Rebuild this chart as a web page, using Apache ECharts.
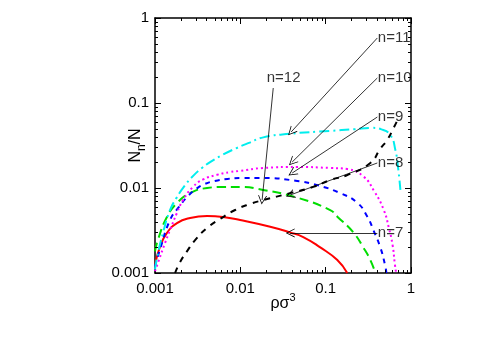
<!DOCTYPE html>
<html><head><meta charset="utf-8">
<script src="https://cdn.jsdelivr.net/npm/echarts@6/dist/echarts.min.js"></script>
<style>html,body{margin:0;padding:0;background:#fff}#c{width:485px;height:339px}</style>
</head><body><div id="c"></div>
<script>
// ---- axis ticks ----
const xMin = 0.001, xMax = 1;
const yMin = 0.001, yMax = 1;
const minorTicks = [0.002,0.003,0.004,0.005,0.006,0.007,0.008,0.009,
                    0.02,0.03,0.04,0.05,0.06,0.07,0.08,0.09,
                    0.2,0.3,0.4,0.5,0.6,0.7,0.8,0.9];

// ---- series data [rho*sigma^3, Nn/N] ----
const n7 = [[0.001,0.00124],[0.00114,0.00202],[0.00138,0.00296],[0.00181,0.00387],[0.00258,0.00444],
  [0.00408,0.00468],[0.00628,0.00456],[0.00995,0.0042],[0.0224,0.0035],[0.0384,0.003],[0.0546,0.00265],
  [0.0864,0.002],[0.137,0.00142],[0.179,0.001]];
const n8 = [[0.001,0.0018],[0.00108,0.00244],[0.00138,0.00456],[0.00181,0.00666],[0.00258,0.00873],
  [0.00408,0.01],[0.00628,0.0103],[0.00995,0.0103],[0.0185,0.0095],[0.0464,0.0077],[0.113,0.0055],
  [0.137,0.0046],[0.211,0.003],[0.276,0.002],[0.334,0.00142],[0.382,0.001]];
const n9 = [[0.001,0.0012],[0.00114,0.00187],[0.0015,0.0042],[0.00191,0.006],[0.0024,0.0079],
  [0.00302,0.0097],[0.0038,0.0111],[0.00501,0.0121],[0.00708,0.0128],[0.01,0.0131],[0.0185,0.0131],
  [0.0464,0.0121],[0.0797,0.0108],[0.148,0.0087],[0.235,0.0067],[0.308,0.0046],[0.362,0.0032],
  [0.437,0.002],[0.5,0.0012],[0.514,0.001]];
const n10 = [[0.001,0.00105],[0.00106,0.00124],[0.00131,0.00225],[0.0015,0.0032],[0.00181,0.0051],
  [0.00213,0.0072],[0.00279,0.0103],[0.00366,0.0126],[0.00534,0.0143],[0.00759,0.0154],[0.00995,0.0159],
  [0.0185,0.0172],[0.0464,0.0177],[0.113,0.0172],[0.179,0.0167],[0.276,0.0137],[0.37,0.0092],
  [0.48,0.0055],[0.55,0.0034],[0.61,0.0021],[0.645,0.0013],[0.67,0.001]];
const n11 = [[0.001,0.0011],[0.00106,0.00154],[0.00124,0.00296],[0.0015,0.0055],[0.00178,0.0076],
  [0.00224,0.0107],[0.00282,0.014],[0.00355,0.0172],[0.00447,0.0203],[0.00631,0.0248],[0.00891,0.0293],
  [0.0126,0.0339],[0.0186,0.0394],[0.0384,0.0435],[0.113,0.047],[0.211,0.049],[0.35,0.051],[0.45,0.049],
  [0.573,0.042],[0.656,0.028],[0.711,0.0163],[0.751,0.0095]];
const n12 = [[0.00172,0.001],[0.00197,0.00135],[0.00238,0.00181],[0.00295,0.00244],[0.00408,0.00339],
  [0.00579,0.00432],[0.00869,0.00551],[0.013,0.00649],[0.0185,0.0072],[0.0384,0.0087],[0.0715,0.0103],
  [0.113,0.0124],[0.179,0.0142],[0.334,0.0197],[0.437,0.029],[0.528,0.037],[0.62,0.05],[0.72,0.068]];

// ---- annotations ----
const annLabels = ['n=12','n=11','n=10','n=9','n=8','n=7'];
const annLabelPos = [[0.0201,0.197],[0.403,0.582],[0.403,0.197],[0.403,0.0684],[0.403,0.0197],[0.403,0.00296]];
const annArrowFrom = [[0.0243,0.15],[0.403,0.582],[0.403,0.197],[0.403,0.0684],[0.403,0.0197],[0.403,0.00296]];
const annArrowTo = [[0.018,0.00722],[0.0394,0.0456],[0.0405,0.0202],[0.0405,0.015],[0.0384,0.00827],[0.0384,0.00296]];

const FONT = 'Liberation Sans, Arial, Helvetica, sans-serif';
const chart = echarts.init(document.getElementById('c'), null, {renderer:'canvas'});

function axisBase(pos, showLabel){
  return {
    type:'log', logBase:10, position:pos,
    axisLine:{show:true, onZero:false, lineStyle:{color:'#000', width:1.5}},
    axisTick:{show:true, inside:true, length:6, lineStyle:{color:'#000', width:1}},
    axisLabel:{show:showLabel, color:'#000', fontSize:15, fontFamily:FONT,
      formatter:function(v){ return String(+Number(v).toPrecision(3)); }},
    splitLine:{show:false}, minorTick:{show:false}
  };
}
const xb = Object.assign(axisBase('bottom', true), {min:xMin, max:xMax,
  name:'{a|ρσ}{b|3}', nameLocation:'middle', nameGap:19, nameMoveOverlap:false,
  nameTextStyle:{color:'#000', fontFamily:FONT, rich:{a:{fontSize:16, fontFamily:FONT, lineHeight:20, verticalAlign:'bottom'}, b:{fontSize:11, fontFamily:FONT, lineHeight:20, verticalAlign:'top'}}}});
xb.axisLabel.margin = 8;
const xt = Object.assign(axisBase('top', false), {min:xMin, max:xMax});
const yl = Object.assign(axisBase('left', true), {min:yMin, max:yMax,
  name:'{a|N}{b|n}{a|/N}', nameLocation:'middle', nameGap:7, nameRotate:90, nameMoveOverlap:false,
  nameTextStyle:{color:'#000', fontFamily:FONT, rich:{a:{fontSize:16, fontFamily:FONT, lineHeight:20, verticalAlign:'top'}, b:{fontSize:12, fontFamily:FONT, lineHeight:20, verticalAlign:'bottom'}}}});
yl.axisLabel.margin = 6;
const yr = Object.assign(axisBase('right', false), {min:yMin, max:yMax});

function curve(data, color, dash, z){
  return {type:'line', data:data, xAxisIndex:0, yAxisIndex:0, showSymbol:false, symbol:'none',
    smooth:0.5, clip:true, z:z||2, silent:true,
    lineStyle:{color:color, width:2, type:dash, cap:'butt', join:'round'}};
}

const minorTickSeriesX = {
  type:'custom', xAxisIndex:0, yAxisIndex:0, silent:true, z:5,
  data: minorTicks.map(v=>[v, yMin]),
  renderItem:function(params, api){
    const cs = params.coordSys;
    const x = Math.round(api.coord([api.value(0), yMin])[0]) + 0.5;
    const b = cs.y + cs.height, t = cs.y;
    return {type:'group', children:[
      {type:'line', shape:{x1:x, y1:b, x2:x, y2:b-3}, style:{stroke:'#000', lineWidth:1}},
      {type:'line', shape:{x1:x, y1:t, x2:x, y2:t+3}, style:{stroke:'#000', lineWidth:1}}
    ]};
  }
};
const minorTickSeriesY = {
  type:'custom', xAxisIndex:0, yAxisIndex:0, silent:true, z:5,
  data: minorTicks.map(v=>[xMin, v]),
  renderItem:function(params, api){
    const cs = params.coordSys;
    const y = Math.round(api.coord([xMin, api.value(1)])[1]) + 0.5;
    const l = cs.x, r = cs.x + cs.width;
    return {type:'group', children:[
      {type:'line', shape:{x1:l, y1:y, x2:l+3, y2:y}, style:{stroke:'#000', lineWidth:1}},
      {type:'line', shape:{x1:r, y1:y, x2:r-3, y2:y}, style:{stroke:'#000', lineWidth:1}}
    ]};
  }
};

const arrowHead = 'path://M5,0 L10,10 L9,10 L5,2 L1,10 L0,10 Z';
const arrows = {
  type:'lines', coordinateSystem:'cartesian2d', xAxisIndex:0, yAxisIndex:0, silent:true, z:6,
  symbol:['none', arrowHead], symbolSize:[7,9],
  lineStyle:{color:'#000', width:0.8, opacity:1, curveness:0},
  itemStyle:{color:'#000'},
  data: annArrowFrom.map((p,i)=>({coords:[p, annArrowTo[i]]}))
};
const labels = {
  type:'scatter', xAxisIndex:0, yAxisIndex:0, silent:true, z:7, symbolSize:1,
  itemStyle:{color:'rgba(0,0,0,0)'},
  label:{show:true, position:'right', distance:0, formatter:'{b}', color:'#000', fontSize:15, fontFamily:FONT},
  data: annLabels.map((s,i)=>({name:s, value:annLabelPos[i]}))
};

chart.setOption({
  animation:false,
  backgroundColor:'#fff',
  grid:{left:155, right:74, top:18, bottom:66, containLabel:false},
  xAxis:[xb, xt],
  yAxis:[yl, yr],
  series:[
    curve(n7, '#ff0000', 'solid'),
    curve(n8, '#00dd00', [9,5]),
    curve(n9, '#0000ff', [5,5]),
    curve(n10, '#ff00ff', [2,3]),
    curve(n11, '#00eeee', [10,4,2,4]),
    curve(n12, '#000000', [6,6]),
    minorTickSeriesX, minorTickSeriesY, arrows, labels
  ]
});
</script>
</body></html>
